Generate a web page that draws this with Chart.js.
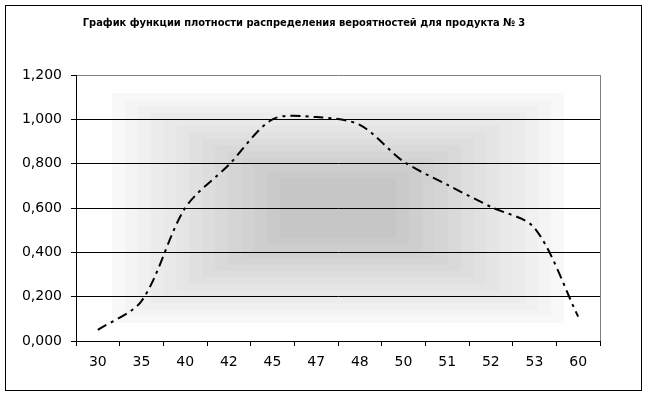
<!DOCTYPE html>
<html>
<head>
<meta charset="utf-8">
<script src="https://cdn.jsdelivr.net/npm/chart.js@4/dist/chart.umd.min.js"></script>
<style>
  html, body { margin: 0; padding: 0; background: #fff; }
  canvas { display: block; }
</style>
</head>
<body>
<canvas id="graphe" width="648" height="397"></canvas>
<script>
// Плотность распределения вероятностей, продукт № 3
const categories = ["30", "35", "40", "42", "45", "47", "48", "50", "51", "52", "53", "60"];
const density = [0.05, 0.18, 0.6, 0.795, 1.0, 1.01, 0.975, 0.81, 0.705, 0.605, 0.51, 0.11];
const yTickLabels = ["0,000", "0,200", "0,400", "0,600", "0,800", "1,000", "1,200"];
const titre = "График функции плотности распределения вероятностей для продукта № 3";

// fond en dégradé rectangulaire + cadre + titre
const decor = {
  id: "decor",
  beforeDraw(chart) {
    const { ctx, chartArea: a } = chart;
    const cx = (a.left + a.right) / 2;
    const cy = (a.top + a.bottom) / 2;
    const n = 14;
    ctx.save();
    for (let i = 0; i < n; i++) {
      const t = i / (n - 1);
      const hw = 226 - t * (226 - 58);
      const hh = 115 - t * (115 - 30);
      const g = Math.round(248 - t * (248 - 198));
      ctx.fillStyle = `rgb(${g},${g},${g})`;
      ctx.fillRect(cx - hw, cy - hh, hw * 2, hh * 2);
    }
    ctx.restore();
  },
  afterDraw(chart) {
    const { ctx, chartArea: a } = chart;
    ctx.save();
    ctx.strokeStyle = "#808080";
    ctx.lineWidth = 1;
    ctx.beginPath();
    ctx.moveTo(Math.round(a.right) + 0.5, Math.round(a.top));
    ctx.lineTo(Math.round(a.right) + 0.5, Math.round(a.bottom));
    ctx.stroke();
    ctx.strokeStyle = "#000";
    ctx.strokeRect(5.5, 5.5, 636, 385);
    ctx.fillStyle = "#000";
    ctx.font = 'bold 11px "DejaVu Sans Condensed", "DejaVu Sans", sans-serif';
    ctx.textAlign = "center";
    ctx.textBaseline = "middle";
    ctx.fillText(titre, 304, 23);
    ctx.restore();
  },
};

new Chart(document.getElementById("graphe"), {
  type: "line",
  data: {
    labels: categories,
    datasets: [{
      data: density,
      borderColor: "#000",
      borderWidth: 2,
      borderDash: [10, 5, 3, 5],
      pointRadius: 0,
      tension: 0.3,
      fill: false,
    }],
  },
  options: {
    responsive: false,
    animation: false,
    layout: { padding: { top: 75, right: 48, left: 0, bottom: 0 } },
    plugins: { legend: { display: false }, tooltip: { enabled: false } },
    scales: {
      x: {
        offset: true,
        afterFit: (s) => { s.height = 56; },
        grid: { offset: true, drawOnChartArea: false, drawTicks: true, tickLength: 5, color: "#000", tickColor: "#000" },
        border: { color: "#000", width: 1 },
        ticks: { color: "#000", font: { family: "DejaVu Sans", size: 14 }, padding: 8, maxRotation: 0, autoSkip: false },
      },
      y: {
        min: 0,
        max: 1.2,
        afterFit: (s) => { s.width = 76; },
        grid: {
          color: (c) => (c.tick && c.tick.value > 1.19 ? "#808080" : "#000"),
          tickColor: "#000",
          tickLength: 5,
        },
        border: { color: "#000", width: 1 },
        ticks: {
          stepSize: 0.2,
          color: "#000",
          padding: 9,
          font: { family: "DejaVu Sans", size: 14 },
          callback: (v, i) => yTickLabels[i],
        },
      },
    },
  },
  plugins: [decor],
});
</script>
</body>
</html>
